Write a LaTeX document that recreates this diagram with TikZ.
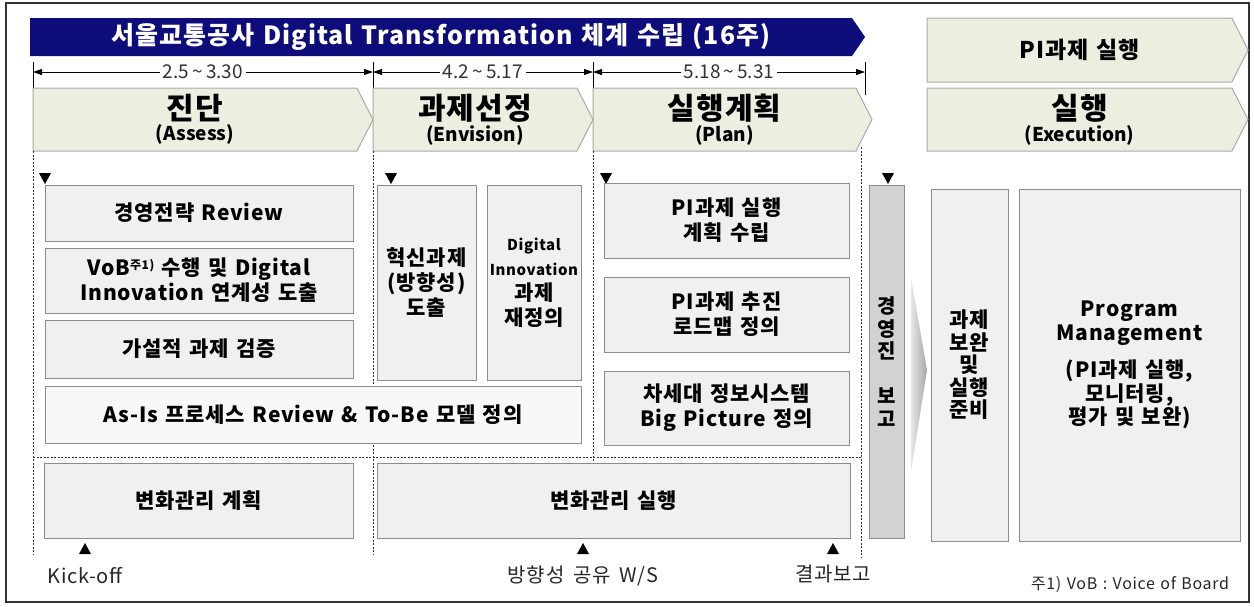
\documentclass[tikz,border=0pt]{standalone}
\usepackage{fontspec}
\setmainfont{Noto Sans CJK KR}
\newfontfamily\widefont{Noto Sans CJK KR}[LetterSpace=4,WordSpace=2.0]
\newfontfamily\lightwide{Noto Sans CJK KR}[LetterSpace=4,WordSpace=1.3]
\usetikzlibrary{shapes.symbols,arrows.meta}

\definecolor{navy}{RGB}{12,12,122}
\definecolor{phasefill}{RGB}{236,238,224}
\definecolor{phaseline}{RGB}{170,170,170}
\definecolor{boxfill}{RGB}{240,240,240}
\definecolor{boxline}{RGB}{140,140,140}
\definecolor{barfill}{RGB}{210,210,210}

\tikzset{
  phase/.style={signal, signal to=east, signal pointer angle=126, draw=phaseline,
    fill=phasefill, line width=1pt, inner sep=0pt, align=center},
  task/.style={draw=boxline, fill=boxfill, line width=1pt, inner sep=0pt, align=center,
    font=\widefont\fontsize{21}{25}\selectfont\bfseries},
  guide/.style={black!80, line width=0.8pt, dash pattern=on 2pt off 1.5pt},
  milestone/.style={font=\lightwide\fontsize{20}{24}\selectfont, text=black!85}
}

\begin{document}
\begin{tikzpicture}[x=1pt,y=-1pt]

  \useasboundingbox (0,0) rectangle (1254,606);
  \draw[black!80, line width=1.2pt] (6,3) rectangle (1249,602);

  % header
  \node[signal, signal to=east, signal pointer angle=111, fill=navy, text=white,
        minimum width=835, minimum height=38, inner sep=0pt,
        font=\lightwide\fontsize{25}{28}\selectfont\bfseries] (ttl) at (441,37)
        {서울교통공사 Digital Transformation 체계 수립 (16주)};
  \node[phase, minimum width=321, minimum height=64,
        font=\widefont\fontsize{23}{26}\selectfont\bfseries] (pi) at (1079.5,50) {PI과제 실행};

  % schedule
  \coordinate (d1) at (33,72);
  \coordinate (d2) at (373,72);
  \coordinate (d3) at (593,72);
  \coordinate (d4) at (865,72);
  \draw[line width=0.8pt] (33,62) -- (33,88) (373,62) -- (373,88) (593,62) -- (593,88) (865,62) -- (865,95);
  \begin{scope}[every node/.style={fill=white, inner sep=3pt, font=\fontsize{19}{20}\selectfont, text=black!80}]
    \draw[{Triangle[length=9pt,width=6pt]}-{Triangle[length=9pt,width=6pt]}, line width=0.8pt]
      (d1) -- node {2.5\,\textasciitilde\,3.30} (d2);
    \draw[{Triangle[length=9pt,width=6pt]}-{Triangle[length=9pt,width=6pt]}, line width=0.8pt]
      (d2) -- node {4.2\,\textasciitilde\,5.17} (d3);
    \draw[{Triangle[length=9pt,width=6pt]}-{Triangle[length=9pt,width=6pt]}, line width=0.8pt]
      (d3) -- node {5.18\,\textasciitilde\,5.31} (d4);
  \end{scope}

  % phases
  \begin{scope}[every node/.style={phase, minimum height=63}]
    \node[minimum width=340] (assess) at (195,119.5)
      {\widefont\fontsize{30}{30}\selectfont\bfseries 진단\\[2pt]\fontsize{19}{20}\selectfont\bfseries (Assess)};
    \node[minimum width=220] (envis) at (475,119.5)
      {\widefont\fontsize{30}{30}\selectfont\bfseries 과제선정\\[2pt]\fontsize{19}{20}\selectfont\bfseries (Envision)};
    \node[minimum width=279] (plan) at (724.5,119.5)
      {\widefont\fontsize{30}{30}\selectfont\bfseries 실행계획\\[2pt]\fontsize{19}{20}\selectfont\bfseries (Plan)};
    \node[minimum width=321] (exec) at (1079.5,119.5)
      {\widefont\fontsize{30}{30}\selectfont\bfseries 실행\\[2pt]\fontsize{19}{20}\selectfont\bfseries (Execution)};
  \end{scope}

  % guides
  \draw[guide] (33,151) -- (33,555);
  \draw[guide] (373,151) -- (373,555);
  \draw[guide] (593,151) -- (593,462);
  \draw[guide] (861,147) -- (861,558);
  \draw[guide] (33,457) -- (861,457);

  \fill (39,173) -- (51,173) -- (45,184) -- cycle;
  \fill (385,173) -- (397,173) -- (391,184) -- cycle;
  \fill (600,173) -- (612,173) -- (606,184) -- cycle;
  \fill (882,173) -- (894,173) -- (888,184) -- cycle;

  % tasks
  \node[task, minimum width=308, minimum height=56] (rev) at (199,213) {경영전략 Review};
  \node[task, minimum width=308, minimum height=65] (vob) at (199,280.5)
    {VoB\raisebox{6pt}{\fontsize{12}{12}\selectfont 주1)} 수행 및 Digital\\Innovation 연계성 도출};
  \node[task, minimum width=308, minimum height=58] (hyp) at (199,349) {가설적 과제 검증};
  \node[task, minimum width=99, minimum height=195] (inn) at (426.5,282.5) {혁신과제\\(방향성)\\도출};
  \node[task, minimum width=94, minimum height=195] (dig) at (534,282.5)
    {\fontsize{15}{19}\selectfont\bfseries Digital\\\fontsize{15}{19}\selectfont\bfseries Innovation\\과제\\재정의};
  \node[task, fill=boxfill!50, minimum width=536, minimum height=57] (asis) at (313,414.5)
    {As-Is 프로세스 Review \& To-Be 모델 정의};
  \node[task, minimum width=245, minimum height=75] (pln) at (726.5,220.5) {PI과제 실행\\계획 수립};
  \node[task, minimum width=245, minimum height=75] (map) at (726.5,314.5) {PI과제 추진\\로드맵 정의};
  \node[task, minimum width=245, minimum height=74] (bp) at (726.5,408) {차세대 정보시스템\\Big Picture 정의};
  \node[task, fill=barfill, minimum width=35, minimum height=353,
        font=\widefont\fontsize{20}{22.5}\selectfont\bfseries] (rpt) at (886.5,361.5) {경\\영\\진\\[22.5pt]보\\고};
  \node[task, minimum width=309, minimum height=75] (cm1) at (198.5,500.5) {변화관리 계획};
  \node[task, minimum width=473, minimum height=75] (cm2) at (613.5,500.5) {변화관리 실행};

  \shade[left color=gray!20, right color=gray!70] (911,278) -- (927,370) -- (911,472) -- cycle;

  \node[task, minimum width=77, minimum height=352,
        font=\widefont\fontsize{21}{22.5}\selectfont\bfseries] (prep) at (969.5,365) {과제\\보완\\및\\실행\\준비};
  \node[task, minimum width=221, minimum height=352,
        font=\widefont\fontsize{21}{23.5}\selectfont\bfseries] (pm) at (1129.5,365)
    {Program\\Management\\[14pt](PI과제 실행,\\모니터링,\\평가 및 보완)};

  % milestones
  \fill (79,554) -- (91,554) -- (85,543) -- cycle;
  \fill (577,554) -- (589,554) -- (583,543) -- cycle;
  \fill (827,554) -- (839,554) -- (833,543) -- cycle;
  \node[milestone] (ko) at (85,576) {Kick-off};
  \node[milestone] (ws) at (583,576) {방향성 공유 W/S};
  \node[milestone] (res) at (833,574) {결과보고};
  \node[font=\lightwide\fontsize{16}{18}\selectfont, text=black!85] (note) at (1130,585) {주1) VoB : Voice of Board};

\end{tikzpicture}
\end{document}
